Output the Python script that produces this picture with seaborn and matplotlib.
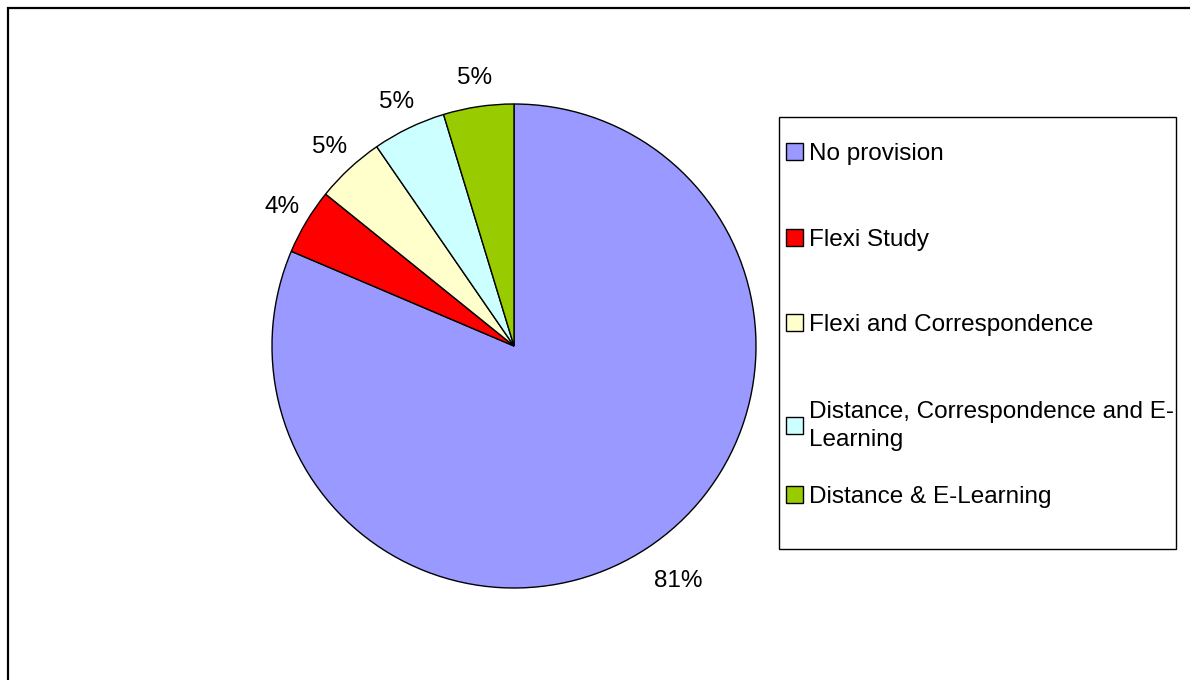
import matplotlib
matplotlib.use("Agg")
import matplotlib.pyplot as plt
import seaborn as sns
from matplotlib.patches import Rectangle

# provision types and their shares (%)
categories = ["No provision", "Flexi Study", "Flexi and Correspondence",
              "Distance, Correspondence and E-\nLearning", "Distance & E-Learning"]
shares = [81.4, 4.4, 4.6, 4.9, 4.7]
colors = ["#9999FF", "#FF0000", "#FFFFCC", "#CCFFFF", "#99CC00"]

sns.set_style("white")
plt.rcParams["font.family"] = ["Liberation Sans", "DejaVu Sans"]
plt.rcParams["text.color"] = "black"

fig = plt.figure(figsize=(11.9, 6.8), dpi=100)
W, H = 1190, 680
FS = 17.5

# outer chart frame (right and bottom run off the picture)
fig.patches.append(Rectangle((8 / W, -0.1), 1.2, 1 - 8 / H + 0.1,
                             transform=fig.transFigure, fill=False,
                             edgecolor="black", linewidth=1.6))

ax = fig.add_axes([(514 - 242) / W, (680 - 346 - 242) / H, 484 / W, 484 / H])
wedges, texts, autotexts = ax.pie(
    shares, colors=colors, startangle=90, counterclock=False,
    autopct="%1.0f%%", pctdistance=1.12,
    wedgeprops=dict(edgecolor="black", linewidth=1.0),
    textprops=dict(fontsize=FS, color="black"))
ax.set_xlim(-1, 1)
ax.set_ylim(-1, 1)
ax.set_aspect("equal")
ax.axis("off")
autotexts[0].set_position((0.68, -0.97))

# legend box
fig.patches.append(Rectangle((779 / W, 1 - 549 / H), (1176 - 779) / W, (549 - 117) / H,
                             transform=fig.transFigure, fill=False,
                             edgecolor="black", linewidth=1.0))
leg_kw = dict(loc="upper left", frameon=False, fontsize=FS,
              handlelength=0.7, handleheight=0.7, handletextpad=0.25,
              borderpad=0, borderaxespad=0)
leg1 = fig.legend(wedges[:3], categories[:3], bbox_to_anchor=(786 / W, 1 - 143 / H),
                  labelspacing=2.62, **leg_kw)
leg2 = fig.legend(wedges[3:], categories[3:], bbox_to_anchor=(786 / W, 1 - 401 / H),
                  labelspacing=1.45, **leg_kw)
for t in leg2.get_texts():
    t.set_linespacing(1.35)

fig.savefig("out.png", dpi=100)
